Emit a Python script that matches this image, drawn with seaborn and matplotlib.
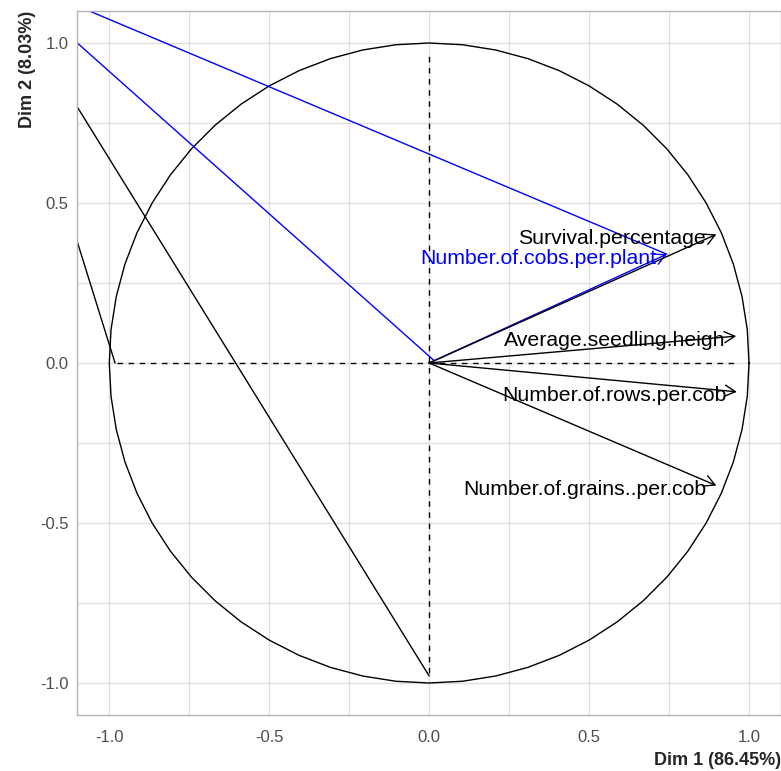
import numpy as np
import pandas as pd
import matplotlib
matplotlib.use("Agg")
import matplotlib.pyplot as plt
from matplotlib.ticker import FixedLocator, FuncFormatter
import seaborn as sns

# ---- data ----
variables = ["Survival.percentage", "Number.of.cobs.per.plant",
             "Average.seedling.heigh", "Number.of.rows.per.cob",
             "Number.of.grains..per.cob"]
dim1 = [0.898, 0.743, 0.960, 0.962, 0.898]
dim2 = [0.402, 0.340, 0.084, -0.090, -0.383]
var_colors = ["black", "blue", "black", "black", "black"]

# stray segments visible in the reference
seg_id = ["a", "a", "b", "b", "c", "c", "d", "d"]
seg_x = [-0.982, -1.25, 0.0, -1.10, 0.015, -1.10, 0.743, -1.20]
seg_y = [0.0, 0.86, -0.978, 0.80, 0.008, 1.00, 0.340, 1.158]
seg_color = ["black", "black", "black", "black", "blue", "blue", "blue", "blue"]

# dashed reference axes
hline_x = [-0.975, 0.97]
vline_y = [-0.97, 0.97]

x_ticks = [-1.0, -0.5, 0.0, 0.5, 1.0]
y_ticks = [-1.0, -0.5, 0.0, 0.5, 1.0]
x_title = "Dim 1 (86.45%)"
y_title = "Dim 2 (8.03%)"

# ---- style ----
sns.set_theme(style="whitegrid")
plt.rcParams["font.family"] = ["Liberation Sans", "DejaVu Sans"]
plt.rcParams["axes.unicode_minus"] = False

fig = plt.figure(figsize=(7.81, 7.71), dpi=100)
ax = fig.add_axes([77.3 / 781, 1 - 715 / 771, 1 - 77.3 / 781, 704 / 771])
ax.set_facecolor("white")

# correlation circle
theta = np.linspace(0, 2 * np.pi, 61)
circ = pd.DataFrame({"x": np.cos(theta), "y": np.sin(theta), "o": np.arange(61)})
sns.lineplot(data=circ, x="x", y="y", sort=False, estimator=None,
             color="black", linewidth=1.0, ax=ax)

# dashed axes
sns.lineplot(x=hline_x, y=[0, 0], color="black", linewidth=1.0,
             linestyle=(0, (4, 4)), estimator=None, ax=ax)
sns.lineplot(x=[0, 0], y=vline_y, color="black", linewidth=1.0,
             linestyle=(0, (4, 4)), estimator=None, sort=False, ax=ax)

# stray segments
segs = pd.DataFrame({"seg": seg_id, "x": seg_x, "y": seg_y, "c": seg_color})
sns.lineplot(data=segs, x="x", y="y", units="seg", hue="c",
             palette={"black": "black", "blue": "blue"},
             estimator=None, sort=False, linewidth=1.0, legend=False, ax=ax)

# arrows (blue first so black is on top)
order = [1, 0, 2, 3, 4]
for i in order:
    ax.annotate("", xy=(dim1[i], dim2[i]), xytext=(0, 0),
                arrowprops=dict(arrowstyle="->,head_length=0.75,head_width=0.4",
                                color=var_colors[i], lw=1.0,
                                shrinkA=0, shrinkB=0, mutation_scale=10))
for i in order:
    ax.annotate(variables[i], xy=(dim1[i], dim2[i]), xytext=(-7.5, -3),
                textcoords="offset points", ha="right", va="center",
                fontsize=15.3, color=var_colors[i])

# axes, grid
ax.set_xlim(-1.1, 1.1)
ax.set_ylim(-1.1, 1.1)
ax.xaxis.set_major_locator(FixedLocator(x_ticks))
ax.yaxis.set_major_locator(FixedLocator(y_ticks))
ax.xaxis.set_minor_locator(FixedLocator([-0.75, -0.25, 0.25, 0.75]))
ax.yaxis.set_minor_locator(FixedLocator([-0.75, -0.25, 0.25, 0.75]))
fmt = FuncFormatter(lambda v, p: f"{v:.1f}")
ax.xaxis.set_major_formatter(fmt)
ax.yaxis.set_major_formatter(fmt)
ax.grid(True, which="both", color="#DEDEDE", linewidth=0.9)
ax.set_axisbelow(True)
ax.tick_params(axis="both", which="both", length=0, labelsize=12, labelcolor="#4D4D4D")
ax.tick_params(axis="x", pad=11)
ax.tick_params(axis="y", pad=6.5)
for s in ax.spines.values():
    s.set_color("#B3B3B3")
    s.set_linewidth(1.0)
    s.set_visible(True)

ax.set_xlabel(x_title, loc="right", fontsize=13, fontweight="bold", labelpad=5)
ax.set_ylabel(y_title, loc="top", fontsize=13, fontweight="bold", labelpad=3)

fig.savefig("out.png", dpi=100)
